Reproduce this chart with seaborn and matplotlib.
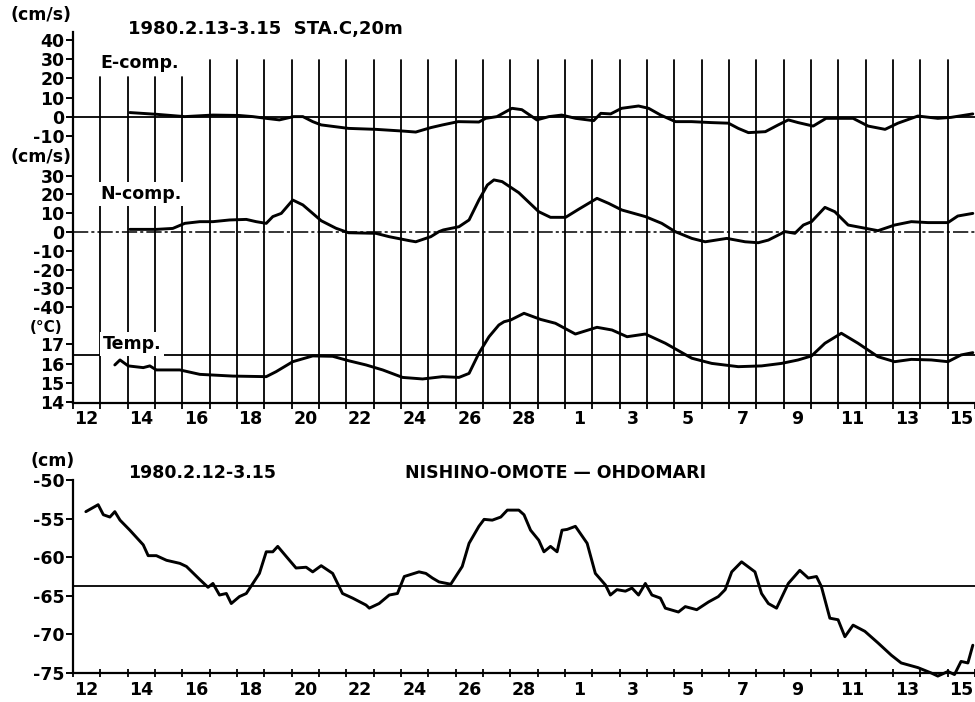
import numpy as np
import pandas as pd
import matplotlib
matplotlib.use("Agg")
import matplotlib.pyplot as plt
import seaborn as sns

# ---------------- data (day index: 0 = 1980-02-12 00h) ----------------
e_day = [2.08, 3.05, 4.09, 5.12, 6.07,
         6.58, 7.07, 7.55, 8.07, 8.41,
         8.77, 9.08, 10.08, 11.08, 12.08,
         12.54, 13.09, 13.52, 14.09, 14.85,
         15.10, 15.51, 16.06, 16.42, 16.97,
         17.41, 17.88, 18.39, 19.05, 19.31,
         19.67, 20.07, 20.69, 21.06, 21.50,
         22.04, 22.63, 23.36, 23.98, 24.34,
         24.71, 25.33, 25.80, 26.17, 26.53,
         27.08, 27.55, 28.54, 29.09, 29.71,
         30.18, 30.91, 31.64, 32.12, 32.92]
e_val = [2.3, 1.4, 0.2, 1.0, 0.8,
         0.2, -0.7, -1.5, 0.2, 0.2,
         -2.4, -4.1, -5.9, -6.4, -7.3,
         -7.8, -5.5, -4.1, -2.4, -2.6,
         -0.7, 0.2, 4.5, 3.8, -1.5,
         0.2, 1.0, -0.7, -1.9, 1.9,
         1.6, 4.5, 5.7, 4.5, 1.0,
         -2.4, -2.4, -2.9, -3.2, -5.9,
         -8.1, -7.6, -4.1, -1.5, -2.9,
         -4.7, -0.7, -0.7, -4.7, -6.4,
         -3.2, 0.5, -0.7, -0.2, 1.6]

n_day = [2.08, 3.05, 3.65, 4.09, 4.64,
         5.12, 5.73, 6.34, 6.70, 7.07,
         7.31, 7.62, 8.04, 8.41, 8.77,
         9.08, 9.62, 10.08, 11.08, 11.57,
         12.30, 12.54, 13.09, 13.39, 13.55,
         14.12, 14.49, 14.85, 15.16, 15.40,
         15.70, 16.31, 17.04, 17.47, 18.02,
         18.50, 19.17, 19.60, 20.08, 20.94,
         21.54, 22.03, 22.64, 23.13, 23.92,
         24.59, 25.07, 25.44, 26.05, 26.41,
         26.72, 27.02, 27.51, 27.87, 28.36,
         29.45, 30.06, 30.67, 31.28, 32.01,
         32.37, 32.92]
n_val = [1.4, 1.4, 1.9, 4.6, 5.5,
         5.5, 6.4, 6.7, 5.5, 4.6,
         8.2, 9.9, 17.0, 14.4, 9.9,
         6.0, 2.0, -0.4, -0.7, -2.5,
         -4.6, -5.2, -2.5, 0.2, 1.1,
         2.8, 6.4, 17.0, 25.0, 27.7,
         26.8, 20.9, 10.8, 7.8, 7.8,
         12.1, 17.9, 15.2, 11.7, 8.2,
         4.6, 0.2, -3.4, -5.2, -3.4,
         -5.2, -5.7, -4.3, 0.2, -0.7,
         3.7, 5.5, 13.1, 10.8, 3.7,
         0.7, 3.7, 5.5, 5.0, 5.0,
         8.5, 9.9]

t_day = [1.53, 1.72, 2.02, 2.57, 2.81,
         3.05, 3.91, 4.64, 5.84, 7.07,
         7.43, 8.04, 8.77, 9.50, 10.11,
         10.72, 11.33, 12.06, 12.79, 13.52,
         14.12, 14.49, 14.85, 15.22, 15.58,
         15.77, 16.01, 16.50, 17.11, 17.65,
         18.38, 19.17, 19.72, 20.27, 20.94,
         21.67, 22.64, 23.37, 24.34, 25.19,
         25.92, 26.53, 27.02, 27.51, 28.11,
         28.72, 29.45, 30.06, 30.67, 31.40,
         32.01, 32.49, 32.92]
t_val = [15.93, 16.19, 15.88, 15.79, 15.88,
         15.67, 15.67, 15.44, 15.35, 15.32,
         15.58, 16.10, 16.40, 16.38, 16.14,
         15.93, 15.67, 15.28, 15.20, 15.32,
         15.28, 15.49, 16.54, 17.40, 18.01,
         18.18, 18.27, 18.62, 18.30, 18.10,
         17.54, 17.89, 17.75, 17.40, 17.54,
         17.06, 16.28, 16.01, 15.84, 15.88,
         16.01, 16.19, 16.40, 17.06, 17.58,
         17.06, 16.36, 16.10, 16.22, 16.19,
         16.10, 16.45, 16.57]

sl_day = [0.47, 0.92, 1.11, 1.35, 1.53,
          1.72, 2.08, 2.57, 2.75, 3.05,
          3.42, 3.91, 4.15, 4.64, 4.94,
          5.12, 5.36, 5.61, 5.79, 6.09,
          6.34, 6.58, 6.82, 7.07, 7.31,
          7.49, 7.80, 8.16, 8.53, 8.77,
          9.08, 9.50, 9.86, 10.23, 10.72,
          10.84, 11.20, 11.57, 11.87, 12.12,
          12.66, 12.91, 13.15, 13.39, 13.82,
          14.24, 14.49, 14.85, 15.04, 15.34,
          15.65, 15.89, 16.31, 16.50, 16.74,
          17.04, 17.23, 17.47, 17.71, 17.89,
          18.08, 18.38, 18.81, 19.11, 19.48,
          19.66, 19.90, 20.21, 20.45, 20.69,
          20.94, 21.18, 21.49, 21.67, 22.15,
          22.40, 22.82, 23.25, 23.61, 23.86,
          24.10, 24.46, 24.95, 25.19, 25.44,
          25.74, 26.17, 26.59, 26.90, 27.20,
          27.38, 27.69, 27.99, 28.24, 28.54,
          28.97, 29.45, 29.94, 30.30, 30.91,
          31.40, 31.64, 32.01, 32.25, 32.49,
          32.74, 32.92]
sl_val = [-54.1, -53.2, -54.5, -54.8, -54.1,
          -55.2, -56.5, -58.4, -59.8, -59.8,
          -60.4, -60.8, -61.2, -62.9, -63.9,
          -63.4, -64.9, -64.7, -66.0, -65.1,
          -64.7, -63.4, -62.1, -59.3, -59.3,
          -58.6, -59.9, -61.4, -61.3, -61.9,
          -61.1, -62.1, -64.7, -65.3, -66.2,
          -66.6, -66.0, -64.9, -64.7, -62.5,
          -61.9, -62.1, -62.7, -63.2, -63.5,
          -61.2, -58.2, -56.0, -55.1, -55.2,
          -54.8, -53.9, -53.9, -54.5, -56.5,
          -57.8, -59.3, -58.6, -59.3, -56.5,
          -56.4, -56.0, -58.2, -62.1, -63.6,
          -64.9, -64.2, -64.4, -64.0, -64.9,
          -63.4, -64.9, -65.3, -66.6, -67.1,
          -66.4, -66.8, -65.8, -65.1, -64.2,
          -61.9, -60.6, -61.9, -64.7, -66.0,
          -66.6, -63.4, -61.7, -62.7, -62.5,
          -63.8, -67.9, -68.1, -70.3, -68.8,
          -69.6, -71.1, -72.7, -73.7, -74.3,
          -75.0, -75.4, -74.8, -75.2, -73.5,
          -73.7, -71.4]

day_label_idx = [0, 2, 4, 6, 8, 10, 12, 14, 16, 18, 20, 22, 24, 26, 28, 30, 32]
day_labels = ['12', '14', '16', '18', '20', '22', '24', '26', '28',
              '1', '3', '5', '7', '9', '11', '13', '15']

e_ticks = [40, 30, 20, 10, 0, -10]
n_ticks = [30, 20, 10, 0, -10, -20, -30, -40]
t_ticks = [17, 16, 15, 14]
sl_ticks = [-50, -55, -60, -65, -70, -75]
t_ref = 16.45
sl_ref = -63.75

# ---------------- style ----------------
sns.set_theme(style="white")
plt.rcParams['font.family'] = ['DejaVu Sans']
plt.rcParams['font.weight'] = 'bold'
plt.rcParams['axes.unicode_minus'] = False
for k in ('text.color', 'axes.labelcolor', 'xtick.color', 'ytick.color', 'axes.edgecolor'):
    plt.rcParams[k] = 'black'

W, H = 975, 702
fig = plt.figure(figsize=(W / 100, H / 100), dpi=100)
fig.patch.set_facecolor('white')

def rect(x0, y_top, x1, y_bot):
    return [x0 / W, 1 - y_bot / H, (x1 - x0) / W, (y_bot - y_top) / H]

PX_DAY = 27.4
X0 = 73
xmax = (W - X0) / PX_DAY
LW = 2.1
FS = 12.5

# ---- upper composite panel ----
top_rect = rect(X0, 32, W, 403)
axE = fig.add_axes(top_rect)
axN = fig.add_axes(top_rect, sharex=axE)
axT = fig.add_axes(top_rect, sharex=axE)

axE.set_ylim(-286 / 1.93, 85 / 1.93)
axN.set_ylim(-171 / 1.88, 200 / 1.88)
axT.set_ylim(14 - 1 / 19.2, 14 + 370 / 19.2)
axE.set_xlim(0, xmax)

for ax in (axN, axT):
    ax.patch.set_visible(False)
    for s in ax.spines.values():
        s.set_visible(False)
    ax.tick_params(axis='x', which='both', bottom=False, labelbottom=False)

for s in ('top', 'right'):
    axE.spines[s].set_visible(False)
for s in ('left', 'bottom'):
    axE.spines[s].set_linewidth(1.6)
    axE.spines[s].set_color('black')

# vertical day lines
for d in range(1, 33):
    top_px = 77 if d <= 4 else 60
    axE.axvline(d, ymin=0, ymax=(403 - top_px) / 371, color='black', lw=1.3, zorder=1)

# reference lines
axE.axhline(0, color='black', lw=1.3, zorder=1)
axN.axhline(0, color='black', lw=1.1, ls=(0, (10, 2, 2, 2)), zorder=1)
axT.axhline(t_ref, color='black', lw=1.3, zorder=1)

sns.lineplot(x=e_day, y=e_val, ax=axE, color='black', lw=LW, estimator=None, sort=False)
sns.lineplot(x=n_day, y=n_val, ax=axN, color='black', lw=LW, estimator=None, sort=False)
sns.lineplot(x=t_day, y=t_val, ax=axT, color='black', lw=LW, estimator=None, sort=False)

for ax, ticks in ((axE, e_ticks), (axN, n_ticks), (axT, t_ticks)):
    ax.yaxis.set_ticks_position('left')
    ax.set_yticks(ticks)
    ax.set_yticklabels([str(t) for t in ticks], fontsize=FS, fontweight='bold')
    ax.tick_params(axis='y', which='major', left=True, length=5, width=1.4,
                   direction='out', pad=1, colors='black')
    ax.set_ylabel('')
    ax.set_xlabel('')

axE.set_xticks(list(range(0, 34)))
axE.set_xticklabels([''] * 34)
axE.set_xticks([i + 0.5 for i in day_label_idx], minor=True)
axE.set_xticklabels(day_labels, minor=True, fontsize=FS, fontweight='bold')
axE.tick_params(axis='x', which='major', bottom=True, length=4, width=1.3, direction='out')
axE.tick_params(axis='x', which='minor', bottom=True, length=0, pad=5)

# ---- lower panel ----
axS = fig.add_axes(rect(X0, 480, W, 673))
sns.lineplot(x=sl_day, y=sl_val, ax=axS, color='black', lw=LW, estimator=None, sort=False)
axS.lines[-1].set_clip_on(False)
axS.axhline(sl_ref, color='black', lw=1.3)
axS.set_xlim(0, xmax)
axS.set_ylim(-75, -50)
for s in ('top', 'right'):
    axS.spines[s].set_visible(False)
for s in ('left', 'bottom'):
    axS.spines[s].set_linewidth(1.6)
    axS.spines[s].set_color('black')
axS.set_yticks(sl_ticks)
axS.set_yticklabels([str(t) for t in sl_ticks], fontsize=FS, fontweight='bold')
axS.tick_params(axis='y', left=True, length=5, width=1.4, direction='out', pad=1)
axS.set_xticks(list(range(0, 34)))
axS.set_xticklabels([''] * 34)
axS.set_xticks([i + 0.5 for i in day_label_idx], minor=True)
axS.set_xticklabels(day_labels, minor=True, fontsize=FS, fontweight='bold')
axS.tick_params(axis='x', which='major', bottom=True, length=6, width=1.3, direction='inout')
axS.tick_params(axis='x', which='minor', bottom=True, length=0, pad=6)
axS.set_xlabel('')
axS.set_ylabel('')

# ---- texts ----
def ftext(x, y, s, ha='left', box=False, fs=FS):
    kw = dict(ha=ha, va='center', fontsize=fs, fontweight='bold', color='black')
    if box:
        kw['bbox'] = dict(facecolor='white', edgecolor='none', pad=2)
    fig.text(x / W, 1 - y / H, s, **kw)

ftext(71, 15, '(cm/s)', ha='right')
ftext(128, 29, '1980.2.13-3.15  STA.C,20m', fs=13)
ftext(100, 63, 'E-comp.', box=True)
ftext(71, 157, '(cm/s)', ha='right')
ftext(100, 194, 'N-comp.', box=True)
ftext(62, 327, '(°C)', ha='right', fs=11)
ftext(103, 344, 'Temp.', box=True)
ftext(75, 461, '(cm)', ha='right')
ftext(128, 473, '1980.2.12-3.15')
ftext(405, 473, 'NISHINO-OMOTE — OHDOMARI')

fig.savefig('out.png', dpi=100, facecolor='white')
